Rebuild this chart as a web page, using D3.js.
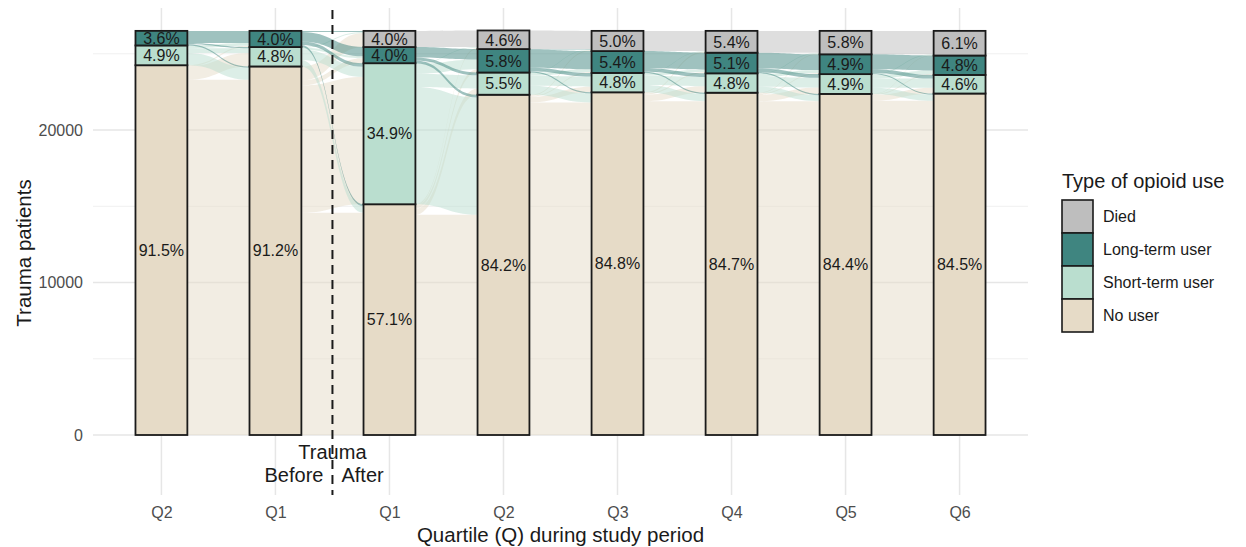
<!DOCTYPE html>
<html>
<head>
<meta charset="utf-8">
<script src="https://cdn.jsdelivr.net/npm/d3@7"></script>
<style>
  body { margin: 0; background: #ffffff; }
  text { font-family: "Liberation Sans", Arial, Helvetica, sans-serif; }
</style>
</head>
<body>
<svg id="chart" width="1246" height="547"></svg>
<script>
// Cohort size (trauma patients)
const cohortSize = 26500;

// Axis positions (quartiles before and after trauma)
const periodLabels = ["Q2", "Q1", "Q1", "Q2", "Q3", "Q4", "Q5", "Q6"];

// Stack order, bottom to top
const categories = ["No user", "Short-term user", "Long-term user", "Died"];

// Share of the cohort in each state (%)
const noUser    = [91.5, 91.2, 57.1, 84.2, 84.8, 84.7, 84.4, 84.5];
const shortTerm = [4.9, 4.8, 34.9, 5.5, 4.8, 4.8, 4.9, 4.6];
const longTerm  = [3.6, 4.0, 4.0, 5.8, 5.4, 5.1, 4.9, 4.8];
const died      = [0, 0, 4.0, 4.6, 5.0, 5.4, 5.8, 6.1];

// Transitions between consecutive quartiles (% of cohort); rows = from, cols = to
// order: No user, Short-term, Long-term, Died
const flowBeforeQ2toBeforeQ1 = [
  [87.9, 3.3, 0.3, 0],
  [3.0, 1.2, 0.7, 0],
  [0.3, 0.3, 3.0, 0],
  [0, 0, 0, 0]
];
const flowBeforeQ1toAfterQ1 = [
  [55.0, 31.5, 1.2, 3.5],
  [1.6, 2.5, 0.5, 0.2],
  [0.5, 0.9, 2.3, 0.3],
  [0, 0, 0, 0]
];
const flowAfterQ1toQ2 = [
  [54.5, 1.5, 0.8, 0.3],
  [29.0, 3.3, 2.4, 0.2],
  [0.7, 0.7, 2.6, 0],
  [0, 0, 0, 4.0]
];
const flowQ2toQ3 = [
  [82.3, 1.4, 0.2, 0.3],
  [2.2, 2.5, 0.7, 0.1],
  [0.3, 0.9, 4.5, 0.1],
  [0, 0, 0, 4.6]
];
const flowQ3toQ4 = [
  [82.6, 1.6, 0.3, 0.3],
  [1.8, 2.3, 0.6, 0.1],
  [0.3, 0.9, 4.2, 0],
  [0, 0, 0, 5.0]
];
const flowQ4toQ5 = [
  [82.6, 1.6, 0.3, 0.2],
  [1.5, 2.4, 0.7, 0.2],
  [0.3, 0.9, 3.9, 0],
  [0, 0, 0, 5.4]
];
const flowQ5toQ6 = [
  [82.7, 1.4, 0.2, 0.1],
  [1.5, 2.3, 0.9, 0.2],
  [0.3, 0.9, 3.7, 0],
  [0, 0, 0, 5.8]
];

const yTicks = [0, 10000, 20000];
const yMinorTicks = [5000, 15000, 25000];

const colors = {
  "No user": "#e6dbc7",
  "Short-term user": "#badecf",
  "Long-term user": "#3f8580",
  "Died": "#bebebe"
};
const legendOrder = ["Died", "Long-term user", "Short-term user", "No user"];

// ---------------------------------------------------------------------
const shares = [noUser, shortTerm, longTerm, died];
const transitions = [flowBeforeQ2toBeforeQ1, flowBeforeQ1toAfterQ1, flowAfterQ1toQ2,
                     flowQ2toQ3, flowQ3toQ4, flowQ4toQ5, flowQ5toQ6];

const svg = d3.select("#chart");
const panel = { left: 93, right: 1028, top: 8, bottom: 495 };

const x = d3.scalePoint()
  .domain(d3.range(periodLabels.length))
  .range([panel.left, panel.right])
  .padding(0.6);
const y = d3.scaleLinear().domain([0, 20000]).range([435, 130]);
const barW = x.step() * 0.455;
const toCount = p => p * cohortSize / 100;

// Stratum extents per period (in % units)
const strata = periodLabels.map((_, t) => {
  let acc = 0;
  return categories.map((c, k) => {
    const lo = acc;
    acc += shares[k][t];
    return { cat: c, k, t, lo, hi: acc, value: shares[k][t] };
  });
});

// Grid
const grid = svg.append("g");
grid.selectAll(".gminor").data(yMinorTicks).join("line")
  .attr("x1", panel.left).attr("x2", panel.right)
  .attr("y1", d => y(d)).attr("y2", d => y(d))
  .attr("stroke", "#ececec").attr("stroke-width", 0.8);
grid.selectAll(".gmajor").data(yTicks).join("line")
  .attr("x1", panel.left).attr("x2", panel.right)
  .attr("y1", d => y(d)).attr("y2", d => y(d))
  .attr("stroke", "#e6e6e6").attr("stroke-width", 1.5);
grid.selectAll(".gx").data(x.domain()).join("line")
  .attr("x1", d => x(d)).attr("x2", d => x(d))
  .attr("y1", panel.top).attr("y2", panel.bottom)
  .attr("stroke", "#e6e6e6").attr("stroke-width", 1.5);

// Flows: lodes ordered inside each stratum by the stratum at the other axis
const flowG = svg.append("g");
transitions.forEach((m, t) => {
  const n = categories.length;
  const rowSum = d3.range(n).map(i => d3.sum(m[i]));
  const colSum = d3.range(n).map(j => d3.sum(m, r => r[j]));
  const srcCursor = d3.range(n).map(i => strata[t][i].hi);
  const tgtCursor = d3.range(n).map(j => strata[t + 1][j].hi);
  const srcPos = {}, tgtPos = {};
  for (let i = 0; i < n; i++) {
    for (let j = n - 1; j >= 0; j--) {
      if (!m[i][j]) continue;
      const h = m[i][j] * strata[t][i].value / rowSum[i];
      srcPos[i + "-" + j] = [srcCursor[i], srcCursor[i] - h];
      srcCursor[i] -= h;
    }
  }
  for (let j = 0; j < n; j++) {
    for (let i = n - 1; i >= 0; i--) {
      if (!m[i][j]) continue;
      const h = m[i][j] * strata[t + 1][j].value / colSum[j];
      tgtPos[i + "-" + j] = [tgtCursor[j], tgtCursor[j] - h];
      tgtCursor[j] -= h;
    }
  }
  const x0 = x(t) + barW / 2, x1 = x(t + 1) - barW / 2, xm = (x0 + x1) / 2;
  const flows = [];
  for (let i = 0; i < n; i++) for (let j = 0; j < n; j++) {
    if (!m[i][j]) continue;
    flows.push({ i, j, s: srcPos[i + "-" + j], e: tgtPos[i + "-" + j] });
  }
  flowG.selectAll(null).data(flows).join("path")
    .attr("d", f => {
      const p = d3.path();
      const sTop = y(toCount(f.s[0])), sBot = y(toCount(f.s[1]));
      const eTop = y(toCount(f.e[0])), eBot = y(toCount(f.e[1]));
      p.moveTo(x0, sTop);
      p.bezierCurveTo(xm, sTop, xm, eTop, x1, eTop);
      p.lineTo(x1, eBot);
      p.bezierCurveTo(xm, eBot, xm, sBot, x0, sBot);
      p.closePath();
      return p.toString();
    })
    .attr("fill", f => colors[categories[f.i]])
    .attr("fill-opacity", 0.5)
    .attr("stroke", "none");
});

// Strata (stacked bars)
const allStrata = strata.flat().filter(d => d.value > 0);
const barG = svg.append("g");
barG.selectAll("rect").data(allStrata).join("rect")
  .attr("x", d => x(d.t) - barW / 2)
  .attr("width", barW)
  .attr("y", d => y(toCount(d.hi)))
  .attr("height", d => y(toCount(d.lo)) - y(toCount(d.hi)))
  .attr("fill", d => colors[d.cat])
  .attr("stroke", "#1a1a1a")
  .attr("stroke-width", 1.8);
barG.selectAll("text").data(allStrata).join("text")
  .attr("x", d => x(d.t))
  .attr("y", d => y(toCount((d.lo + d.hi) / 2)))
  .attr("dy", "0.36em")
  .attr("text-anchor", "middle")
  .attr("font-size", 16)
  .attr("fill", "#1a1a1a")
  .text(d => d.value.toFixed(1) + "%");

// Trauma divider
const divX = (x(1) + x(2)) / 2;
svg.append("line")
  .attr("x1", divX).attr("x2", divX)
  .attr("y1", 10).attr("y2", panel.bottom)
  .attr("stroke", "#1a1a1a").attr("stroke-width", 2)
  .attr("stroke-dasharray", "9,6");
svg.append("text").attr("x", divX).attr("y", 452).attr("dy", "0.36em")
  .attr("text-anchor", "middle").attr("font-size", 20).attr("fill", "#1a1a1a").text("Trauma");
svg.append("text").attr("x", divX - 9).attr("y", 475).attr("dy", "0.36em")
  .attr("text-anchor", "end").attr("font-size", 20).attr("fill", "#1a1a1a").text("Before");
svg.append("text").attr("x", divX + 9).attr("y", 475).attr("dy", "0.36em")
  .attr("text-anchor", "start").attr("font-size", 20).attr("fill", "#1a1a1a").text("After");

// Axes
const yAxis = svg.append("g").attr("transform", `translate(${panel.left},0)`)
  .call(d3.axisLeft(y).tickValues(yTicks).tickSize(0).tickPadding(10).tickFormat(d3.format("d")));
yAxis.select(".domain").remove();
yAxis.selectAll("text").attr("font-size", 16).attr("fill", "#4d4d4d")
  .style("font-family", "'Liberation Sans', Arial, sans-serif");

const xAxis = svg.append("g").attr("transform", `translate(0,${panel.bottom})`)
  .call(d3.axisBottom(x).tickSize(0).tickPadding(12).tickFormat(i => periodLabels[i]));
xAxis.select(".domain").remove();
xAxis.selectAll("text").attr("font-size", 16).attr("fill", "#4d4d4d")
  .style("font-family", "'Liberation Sans', Arial, sans-serif");

svg.append("text")
  .attr("transform", "translate(24,253) rotate(-90)")
  .attr("text-anchor", "middle").attr("dy", "0.36em")
  .attr("font-size", 20.5).attr("fill", "#1a1a1a")
  .text("Trauma patients");
svg.append("text")
  .attr("x", (panel.left + panel.right) / 2).attr("y", 535).attr("dy", "0.36em")
  .attr("text-anchor", "middle").attr("font-size", 20.5).attr("fill", "#1a1a1a")
  .text("Quartile (Q) during study period");

// Legend
const legend = svg.append("g").attr("transform", "translate(1062,0)");
legend.append("text").attr("x", 0).attr("y", 188)
  .attr("font-size", 20).attr("fill", "#1a1a1a").text("Type of opioid use");
const keyH = 33, keyW = 31, keyTop = 200;
legendOrder.forEach((c, i) => {
  legend.append("rect")
    .attr("x", 0).attr("y", keyTop + i * keyH)
    .attr("width", keyW).attr("height", keyH)
    .attr("fill", colors[c]).attr("stroke", "#1a1a1a").attr("stroke-width", 1.6);
  legend.append("text")
    .attr("x", 41).attr("y", keyTop + i * keyH + keyH / 2).attr("dy", "0.36em")
    .attr("font-size", 16).attr("fill", "#1a1a1a").text(c);
});
</script>
</body>
</html>
